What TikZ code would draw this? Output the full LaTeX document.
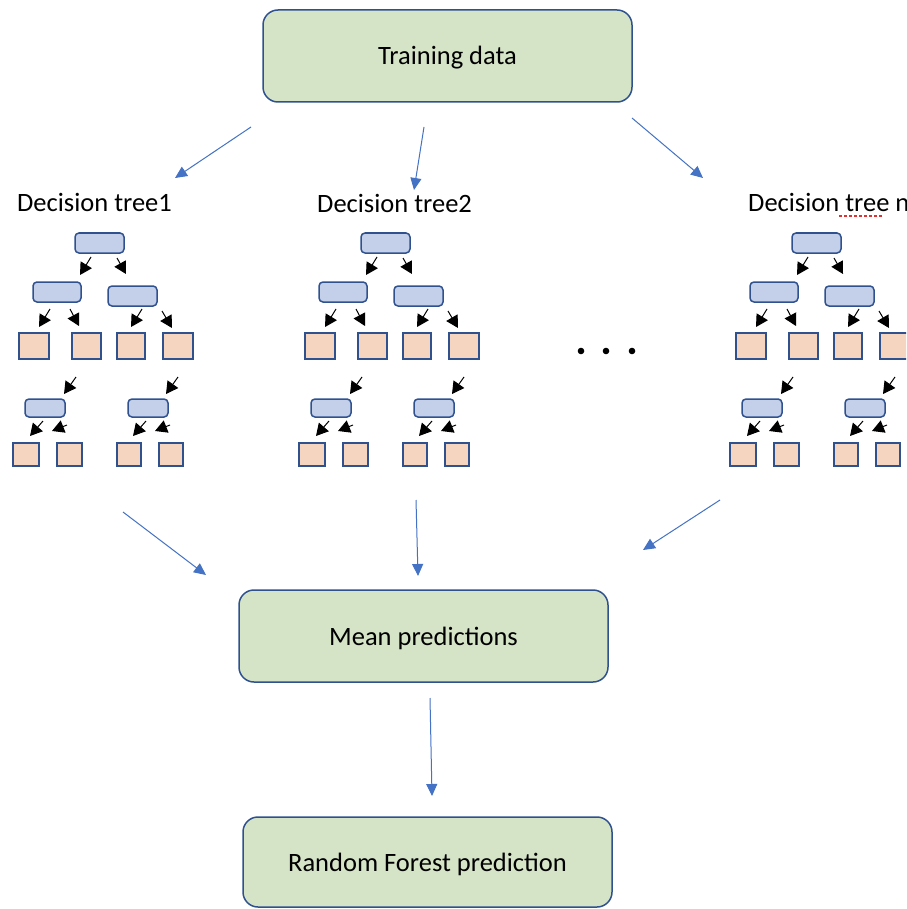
\documentclass[tikz,border=0pt]{standalone}
\usepackage{fontspec}
\setmainfont{Carlito}
\usetikzlibrary{arrows.meta}

\definecolor{edgeblue}{HTML}{2F528F}
\definecolor{arrowblue}{HTML}{4472C4}
\definecolor{greenfill}{HTML}{D5E3C7}
\definecolor{nodefill}{HTML}{C4D0EA}
\definecolor{leaffill}{HTML}{F6D5C0}
\definecolor{spellred}{HTML}{E03030}

% place a short black branch arrow between two named coordinates
\newcommand\branchto[3]{%
  \coordinate (#1s) at #2;
  \coordinate (#1e) at #3;
  \draw[branch] (#1s) -- (#1e);}

\tikzset{
  bigbox/.style={draw=edgeblue, fill=greenfill, line width=1.5pt,
    rounded corners=15pt, minimum width=369pt, minimum height=92pt,
    inner sep=0pt, text height=18pt, text depth=0pt,
    font=\fontsize{26.5}{31}\selectfont},
  splitbox/.style={draw=edgeblue, fill=nodefill, line width=1.5pt,
    rounded corners=4pt, inner sep=0pt},
  leafbox/.style={draw=edgeblue, fill=leaffill, line width=1.5pt, inner sep=0pt},
  flow/.style={draw=arrowblue, line width=1pt, -{Triangle[length=12pt,width=11pt]}},
  branch/.style={draw=black, line width=1pt, -{Triangle[length=12pt,width=13pt]}},
  treelabel/.style={font=\fontsize{26.5}{31}\selectfont, anchor=base west, inner sep=0pt},
  % one small decision tree, drawn in its own local frame
  dtree/.pic={
    \node[splitbox, minimum width=49pt, minimum height=20pt] (-r)  at (99.5,243) {};
    \node[splitbox, minimum width=48pt, minimum height=20pt] (-a)  at (57,292)   {};
    \node[splitbox, minimum width=49pt, minimum height=20pt] (-b)  at (132.5,296) {};
    \node[leafbox, minimum width=30pt, minimum height=26pt]  (-l1) at (34,346)   {};
    \node[leafbox, minimum width=29pt, minimum height=26pt]  (-l2) at (86.5,346) {};
    \node[leafbox, minimum width=28pt, minimum height=26pt]  (-l3) at (131,346)  {};
    \node[leafbox, minimum width=30pt, minimum height=26pt]  (-l4) at (178,346)  {};
    \node[splitbox, minimum width=40pt, minimum height=18pt] (-c)  at (45,408)   {};
    \node[splitbox, minimum width=40pt, minimum height=18pt] (-d)  at (148,408)  {};
    \node[leafbox, minimum width=26pt, minimum height=23pt]  (-m1) at (26,454.5)  {};
    \node[leafbox, minimum width=25pt, minimum height=23pt]  (-m2) at (69.5,454.5) {};
    \node[leafbox, minimum width=24pt, minimum height=23pt]  (-m3) at (129,454.5) {};
    \node[leafbox, minimum width=24pt, minimum height=23pt]  (-m4) at (171,454.5) {};
    \branchto{-ra}{(91,257)}{(80,275)}
    \branchto{-rb}{(117,258)}{(126,274)}
    \branchto{-aa}{(50,309)}{(39,327)}
    \branchto{-ab}{(70,309)}{(79,326)}
    \branchto{-ba}{(142,309)}{(131,327)}
    \branchto{-bb}{(162,311)}{(172,328)}
    \branchto{-xc}{(76,377)}{(64,394)}
    \branchto{-xd}{(178,377)}{(166,394)}
    \branchto{-ca}{(43,421)}{(30,436)}
    \branchto{-cb}{(67,425)}{(52,431)}
    \branchto{-da}{(146,421)}{(133,436)}
    \branchto{-db}{(170,425)}{(155,431)}
  },
}

\begin{document}
\begin{tikzpicture}[x=1pt, y=-1pt]
  \useasboundingbox (0,0) rectangle (906,909);
  \clip (0,0) rectangle (906,909);
  \fill[white] (0,0) rectangle (906,909);

  % main flow boxes
  \node[bigbox] (train) at (447.5,56)  {Training data};
  \node[bigbox] (mean)  at (423.5,636) {Mean predictions};
  \node[bigbox, minimum height=90pt] (rf) at (427.5,862) {Random Forest prediction};

  % the individual trees
  \pic (t1) at (0,0)   {dtree};
  \pic (t2) at (286,0) {dtree};
  \pic (tn) at (717,0) {dtree};

  \node[treelabel] (lab1) at (17,212)  {Decision tree1};
  \node[treelabel] (lab2) at (317,213) {Decision tree2};
  \node[treelabel] (labn) at (748,212) {Decision tree n};
  % spell-check underline beneath "tree"
  \draw[spellred, line width=1.3pt, dash pattern=on 2.5pt off 2.5pt] (839,216) -- (882,216);

  % ellipsis between the trees
  \foreach \i/\x in {1/581, 2/606, 3/632}
    \fill (\x,351) circle[radius=3.3pt] coordinate (dot\i);

  % blue flow arrows
  \coordinate (s1) at (251,127);  \coordinate (e1) at (175,178);
  \coordinate (s2) at (424,127);  \coordinate (e2) at (414,190);
  \coordinate (s3) at (632,118);  \coordinate (e3) at (703,178);
  \coordinate (s4) at (123,512);  \coordinate (e4) at (206,575);
  \coordinate (s5) at (416,500);  \coordinate (e5) at (418,576);
  \coordinate (s6) at (720,500);  \coordinate (e6) at (643,550);
  \coordinate (s7) at (430,698);  \coordinate (e7) at (432,796);
  \foreach \k in {1,...,7}
    \draw[flow] (s\k) -- (e\k);
\end{tikzpicture}
\end{document}
